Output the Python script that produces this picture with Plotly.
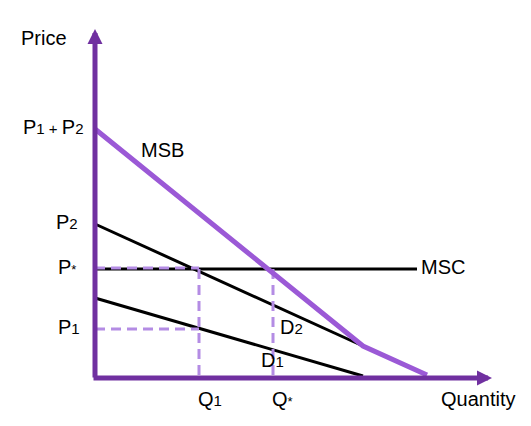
import plotly.graph_objects as go

# values (1 unit ~ 1 px, origin at the axis corner)
q_ticks = [104, 178]
q_labels = ["Q<span style='font-size:15px'>1</span>", "Q<span style='font-size:13px'>*</span>"]

p_ticks = [49, 109, 154, 249]
p_labels = [
    "P<span style='font-size:15px'>1</span>",
    "P<span style='font-size:13px'>*</span>",
    "P<span style='font-size:15px'>2</span>",
    "P<span style='font-size:15px'>1 + </span>P<span style='font-size:15px'>2</span>",
]

msb_q = [0, 268, 332]
msb_p = [249, 32, 3]
d2_q = [0, 268]
d2_p = [154, 32]
d1_q = [0, 268]
d1_p = [80, 2]
msc_q = [0, 322]
msc_p = [109, 109]

AXIS = "#7030A0"
MSB_C = "#9B59D6"
DASH_C = "#B48CE4"
FONT = "Arial, Liberation Sans, sans-serif"

fig = go.Figure()

fig.add_trace(go.Scatter(x=msc_q, y=msc_p, mode="lines", line=dict(color="black", width=3)))
fig.add_trace(go.Scatter(x=d2_q, y=d2_p, mode="lines", line=dict(color="black", width=3)))
fig.add_trace(go.Scatter(x=d1_q, y=d1_p, mode="lines", line=dict(color="black", width=3)))

# dashed guide lines for the two equilibria
q1, qs = q_ticks
p1, ps = p_ticks[0], p_ticks[1]
for xs, ys in [([0, q1], [ps + 1, ps + 1]), ([q1, q1], [ps, 0]), ([0, q1], [p1, p1]), ([qs, qs], [ps, 0])]:
    fig.add_trace(go.Scatter(x=xs, y=ys, mode="lines",
                             line=dict(color=DASH_C, width=3, dash="10px,6px")))

fig.add_trace(go.Scatter(x=msb_q, y=msb_p, mode="lines", line=dict(color=MSB_C, width=5)))

# axes with arrow heads
fig.add_annotation(x=0, y=349, ax=0, ay=-1, xref="x", yref="y", axref="x", ayref="y",
                   text="", showarrow=True, arrowhead=2, arrowsize=0.6,
                   arrowwidth=5, arrowcolor=AXIS)
fig.add_annotation(x=397, y=0, ax=-3, ay=0, xref="x", yref="y", axref="x", ayref="y",
                   text="", showarrow=True, arrowhead=2, arrowsize=0.6,
                   arrowwidth=5, arrowcolor=AXIS)

def label(x, y, text, anchor="center"):
    # text boxes sit a little low when middle-anchored, so nudge them up
    fig.add_annotation(x=x, y=y + 2, text=text, showarrow=False, xanchor=anchor,
                       yanchor="middle", font=dict(family=FONT, size=20, color="black"))

label(-51, 338, "Price")
label(383, -23, "Quantity")

p_right = [-13, -17, -15, -10]
for y, t, xr in zip(p_ticks, p_labels, p_right):
    label(xr, y, t, anchor="right")
for x, t in zip(q_ticks, q_labels):
    label(x - 3, -23, t, anchor="left")

label(msc_q[-1] + 2, msc_p[-1], "MSC", anchor="left")
label(67, 226, "MSB")
label(196, 49, "D<span style='font-size:15px'>2</span>")
label(177, 16, "D<span style='font-size:15px'>1</span>")

# page body keeps an 8px margin, so the figure is smaller and the ranges shifted
fig.update_layout(
    width=523, height=418,
    margin=dict(l=0, r=0, t=0, b=0),
    paper_bgcolor="white", plot_bgcolor="white",
    showlegend=False,
    xaxis=dict(range=[-87, 436], visible=False, fixedrange=True),
    yaxis=dict(range=[-48, 370], visible=False, fixedrange=True),
)

fig.write_html("out.html")
